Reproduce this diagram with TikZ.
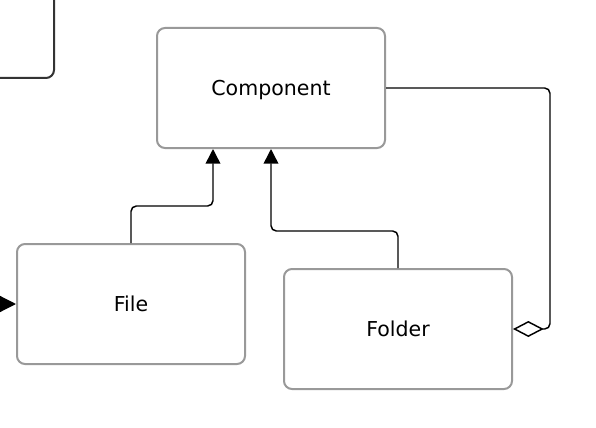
\documentclass[tikz,border=0pt]{standalone}
\usepackage{fontspec}
\setmainfont{DejaVu Sans}
\usetikzlibrary{arrows.meta}
\begin{document}
\begin{tikzpicture}[x=0.75pt,y=-0.75pt,
        cls/.style={draw=black!40,line width=1.5pt,rounded corners=6pt,rectangle,minimum width=171pt,minimum height=90pt,inner sep=0pt,text depth=0pt,font=\fontsize{15.4}{18}\selectfont},
        gen/.style={-{Triangle[length=11pt,width=11pt]},line width=1.1pt,rounded corners=4pt},
        agg/.style={{Diamond[open,length=23pt,width=12pt]}-,line width=1.1pt,rounded corners=4pt}]
        \useasboundingbox (0,0) rectangle (596,428);
        \clip (0,0) rectangle (596,428);
        \node[cls,draw=black!80,minimum width=150pt,minimum height=150pt,anchor=center] (client) at (-46,-22) {};
        \node[cls,anchor=center] (comp) at (271,88) {Component};
        \node[cls,anchor=center] (file) at (131,304) {File};
        \node[cls,anchor=center] (folder) at (398,329) {Folder};
        \coordinate (src) at (-30,304);
        \draw[gen,-{Triangle[length=15pt,width=15pt]}] (src) -- (file.west);
        \draw[gen] (file.north) -- (file.north |- 0,206) -| (213,0 |- comp.south);
        \draw[gen] (folder.north) -- (folder.north |- 0,231) -| (comp.south);
        \draw[agg] (folder.east) -| (550,0 |- comp.east) -- (comp.east);
    \end{tikzpicture}
\end{document}
